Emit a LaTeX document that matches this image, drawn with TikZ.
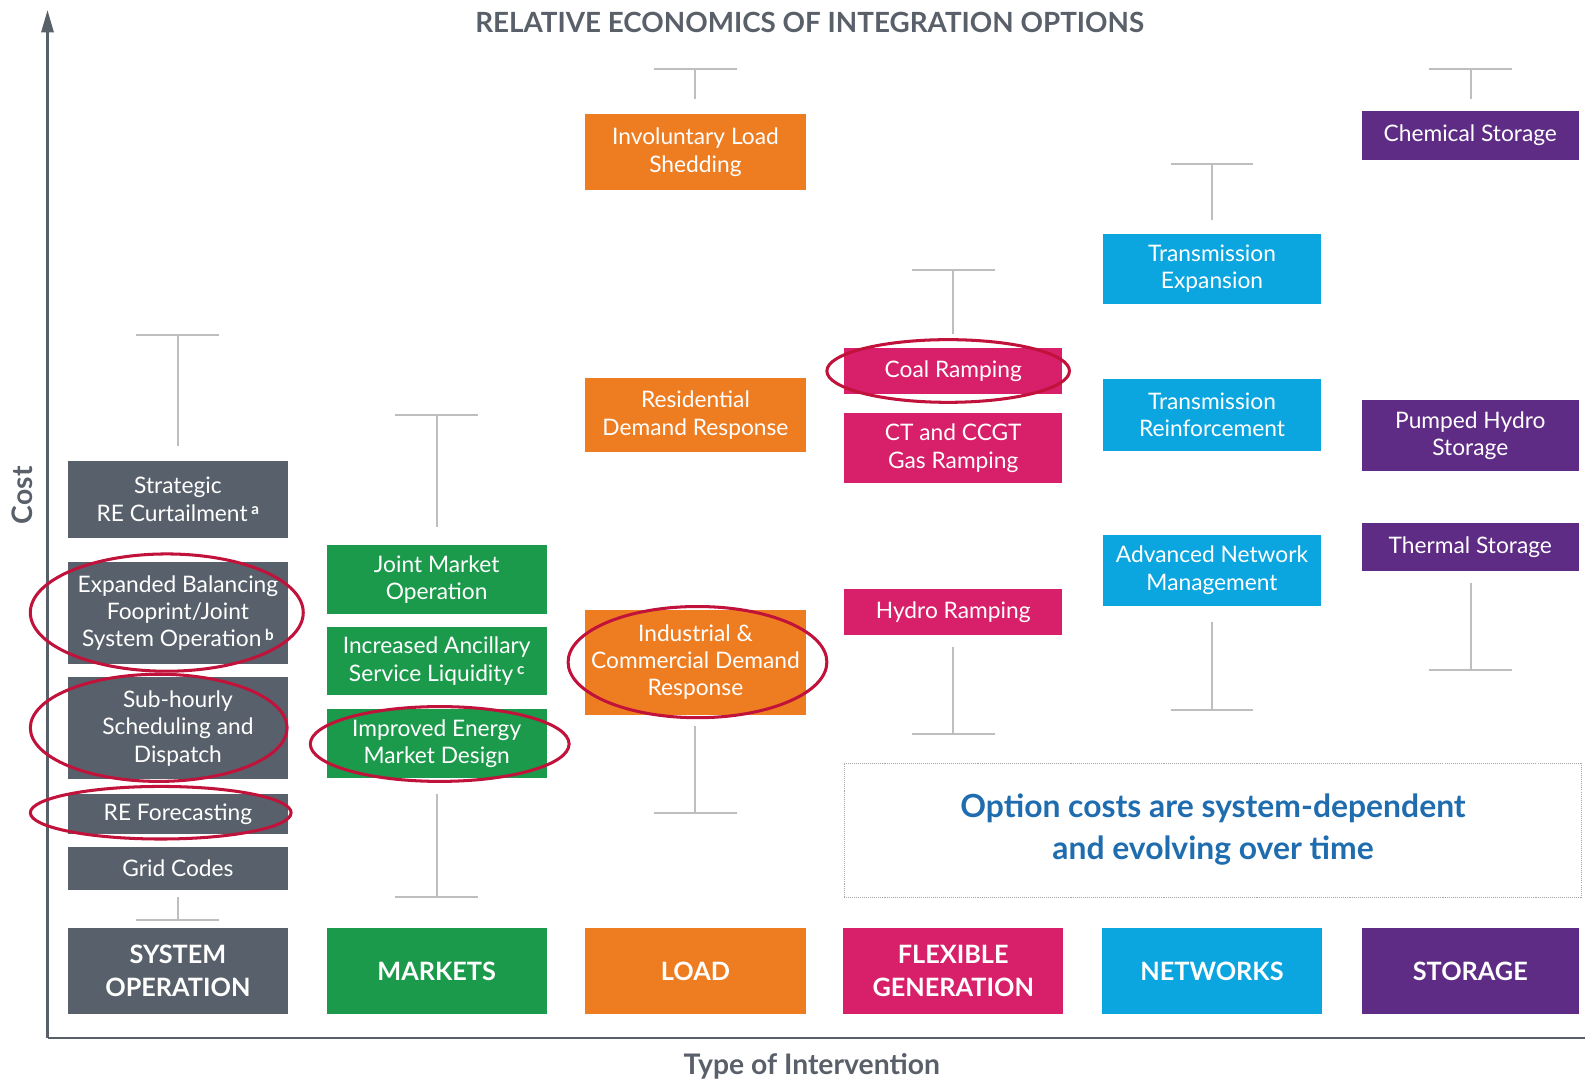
\documentclass[tikz,border=0pt]{standalone}
\usepackage{fontspec}
\setmainfont{Lato}
\usetikzlibrary{arrows.meta,calc}
\definecolor{sysgray}{HTML}{58616B}
\definecolor{mktgreen}{HTML}{1B9A4B}
\definecolor{loadorange}{HTML}{EE7D22}
\definecolor{flexpink}{HTML}{D81F69}
\definecolor{netblue}{HTML}{0BA6DF}
\definecolor{storpurple}{HTML}{5E2B85}
\definecolor{axisgray}{HTML}{59606A}
\definecolor{whiskgray}{HTML}{BEBEBE}
\definecolor{ringred}{HTML}{C0123A}
\definecolor{noteblue}{HTML}{1F6DAF}
\newcommand\supmark[1]{\raisebox{0.55ex}{\fontsize{15}{15}\selectfont\bfseries #1}}
\newcommand\mywhisker[4]{%
  \coordinate (#1T) at (#2,#3);
  \coordinate (#1E) at (#2,#4);
  \coordinate (#1L) at ($(#1T)+(-41,0)$);
  \coordinate (#1R) at ($(#1T)+(41,0)$);
  \draw[whisk] (#1L) -- (#1R);
  \draw[whisk] (#1T) -- (#1E);}
\begin{document}
\begin{tikzpicture}[x=1pt,y=-1pt,
  optbox/.style={rectangle,inner sep=0pt,minimum width=218pt,text=white,align=center,
    font=\fontsize{22.5}{27}\selectfont},
  catbox/.style={rectangle,inner sep=0pt,minimum width=218pt,minimum height=85pt,text=white,align=center,
    font=\fontsize{25}{33}\selectfont\bfseries},
  whisk/.style={draw=whiskgray,line width=2pt},
  ring/.style={draw=ringred,line width=3pt},
  axislbl/.style={text=axisgray,font=\fontsize{28}{30}\selectfont\bfseries}]
\useasboundingbox[fill=white] (0,0) rectangle (1568,1069);

% title and axes
\node[text=axisgray,font=\fontsize{27.5}{30}\selectfont\bfseries] (title) at (801,22) {RELATIVE ECONOMICS OF INTEGRATION OPTIONS};
\coordinate (origin) at (47,1027);
\coordinate (ytip) at (47,10);
\coordinate (xend) at (1568,1027);
\draw[axisgray,line width=2.5pt,-{Triangle[length=22pt,width=12pt]}] (origin) -- (ytip);
\draw[axisgray,line width=2.5pt] (origin) -- (xend);
\node[axislbl,rotate=90] (cost) at (22,490) {Cost};
\node[axislbl] (xlbl) at (803,1055) {Type of Intervention};

% column 1: system operation
\node[optbox,fill=sysgray,minimum height=76pt] (strat) at (176,494) {Strategic\\RE Curtailment\,\supmark{a}};
\node[optbox,fill=sysgray,minimum height=101pt] (expand) at (176,606.5) {Expanded Balancing\\Fooprint/Joint\\System Operation\,\supmark{b}};
\node[optbox,fill=sysgray,minimum height=101pt] (subh) at (176,720.5) {Sub-hourly\\Scheduling and\\Dispatch};
\node[optbox,fill=sysgray,minimum height=40pt] (refc) at (176,805) {RE Forecasting};
\node[optbox,fill=sysgray,minimum height=42pt] (grid) at (176,859) {Grid Codes};
\node[catbox,fill=sysgray] (cat1) at (176,960.5) {SYSTEM\\OPERATION};
\mywhisker{wa}{176}{331}{441}
\mywhisker{wb}{176}{910}{887}

% column 2: markets
\node[optbox,fill=mktgreen,minimum height=68pt] (jmo) at (432,573) {Joint Market\\Operation};
\node[optbox,fill=mktgreen,minimum height=68pt] (anc) at (432,654) {Increased Ancillary\\Service Liquidity\,\supmark{c}};
\node[optbox,fill=mktgreen,minimum height=69pt] (iemd) at (432,735.5) {Improved Energy\\Market Design};
\node[catbox,fill=mktgreen] (cat2) at (432,960.5) {MARKETS};
\mywhisker{wc}{432}{411}{521}
\mywhisker{wd}{432}{887}{785}

% column 3: load
\node[optbox,fill=loadorange,minimum height=75pt] (ils) at (688,150.5) {Involuntary Load\\Shedding};
\node[optbox,fill=loadorange,minimum height=73pt] (rdr) at (688,410.5) {Residential\\Demand Response};
\node[optbox,fill=loadorange,minimum height=104pt] (icdr) at (688,655) {Industrial \&\\Commercial Demand\\Response};
\node[catbox,fill=loadorange] (cat3) at (688,960.5) {LOAD};
\mywhisker{we}{688}{68}{98}
\mywhisker{wf}{688}{804}{718}

% column 4: flexible generation
\node[optbox,fill=flexpink,minimum width=216pt,minimum height=46pt] (coal) at (943,367) {Coal Ramping};
\node[optbox,fill=flexpink,minimum width=216pt,minimum height=69pt] (ccgt) at (943,443.5) {CT and CCGT\\Gas Ramping};
\node[optbox,fill=flexpink,minimum width=216pt,minimum height=45pt] (hydro) at (943,605.5) {Hydro Ramping};
\node[catbox,fill=flexpink] (cat4) at (943,960.5) {FLEXIBLE\\GENERATION};
\mywhisker{wg}{943}{267}{330}
\mywhisker{wh}{943}{726}{640}

% column 5: networks
\node[optbox,fill=netblue,minimum width=216pt,minimum height=70pt] (te) at (1199,266) {Transmission\\Expansion};
\node[optbox,fill=netblue,minimum width=216pt,minimum height=71pt] (tr) at (1199,410.5) {Transmission\\Reinforcement};
\node[optbox,fill=netblue,minimum width=216pt,minimum height=70pt] (anm) at (1199,564) {Advanced Network\\Management};
\node[catbox,fill=netblue] (cat5) at (1199,960.5) {NETWORKS};
\mywhisker{wi}{1199}{162}{218}
\mywhisker{wj}{1199}{702}{615}

% column 6: storage
\node[optbox,fill=storpurple,minimum width=215pt,minimum height=48pt] (chem) at (1454.5,134) {Chemical Storage};
\node[optbox,fill=storpurple,minimum width=215pt,minimum height=70pt] (phs) at (1454.5,431) {Pumped Hydro\\Storage};
\node[optbox,fill=storpurple,minimum width=215pt,minimum height=48pt] (ts) at (1454.5,541) {Thermal Storage};
\node[catbox,fill=storpurple,minimum width=215pt] (cat6) at (1454.5,960.5) {STORAGE};
\mywhisker{wk}{1455}{68}{98}
\mywhisker{wl}{1455}{663}{577}

% note box
\node[draw=gray!70,densely dotted,line width=1pt,minimum width=730pt,minimum height=133pt,inner sep=0pt] (notebox) at (1200,821.5) {};
\node[text=noteblue,font=\fontsize{31.5}{41}\selectfont\bfseries,align=center] (note) at (1200,820.5) {Option costs are system-dependent\\and evolving over time};

% red rings
\draw[ring] (165,606) ellipse [x radius=135, y radius=58];
\draw[ring] (157,720) ellipse [x radius=127, y radius=53];
\draw[ring] (159,804) ellipse [x radius=129, y radius=26];
\draw[ring] (435,736) ellipse [x radius=128, y radius=37];
\draw[ring] (690,655) ellipse [x radius=128, y radius=55];
\draw[ring] (938,367) ellipse [x radius=120, y radius=31];
\end{tikzpicture}
\end{document}
